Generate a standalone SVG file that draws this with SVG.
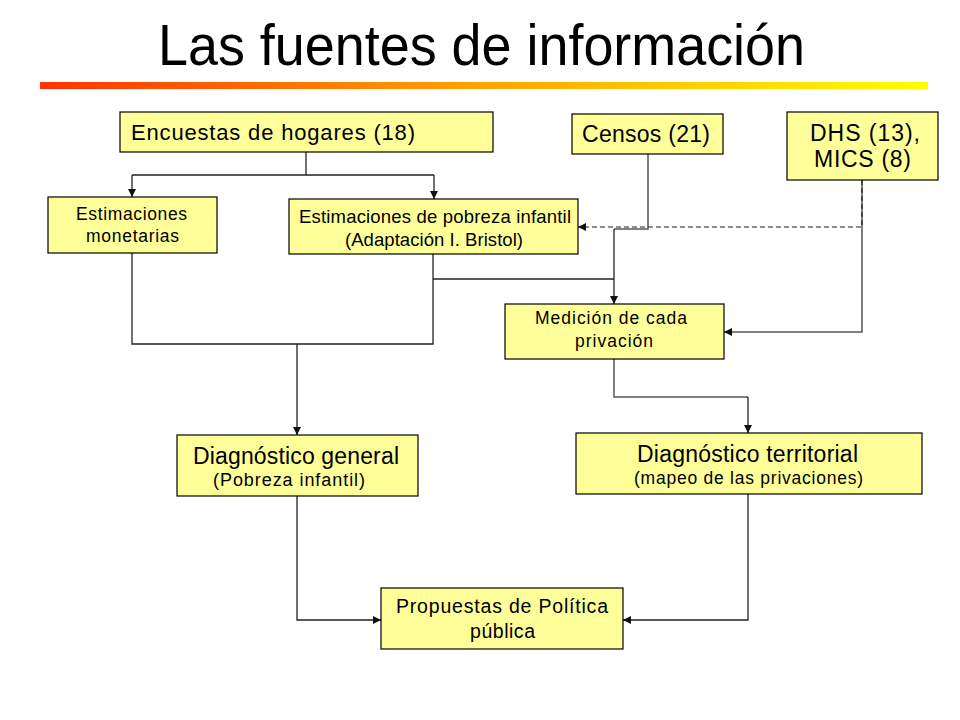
<svg xmlns="http://www.w3.org/2000/svg" width="960" height="720" viewBox="0 0 960 720">
<defs>
<linearGradient id="bar" x1="0" y1="0" x2="1" y2="0">
<stop offset="0" stop-color="#ff3300"/>
<stop offset="0.5" stop-color="#ffa500"/>
<stop offset="1" stop-color="#ffff00"/>
</linearGradient>
<marker id="arr" viewBox="0 0 10 10" refX="10" refY="5" markerWidth="8" markerHeight="8" markerUnits="userSpaceOnUse" orient="auto">
<path d="M0,0 L10,5 L0,10 z" fill="#111"/>
</marker>
</defs>
<style>
.box{fill:#ffff99;stroke:#000;stroke-width:1.2}
.t{font-family:"Liberation Sans",Arial,sans-serif;fill:#000}
.ln{fill:none;stroke:#222;stroke-width:1.3}
.gr{fill:none;stroke:#555;stroke-width:1.5}
.dash{fill:none;stroke:#222;stroke-width:1.2;stroke-dasharray:5 3}
</style>
<rect width="960" height="720" fill="#fff"/>
<text x="158" y="65" class="t" font-size="57" textLength="647" lengthAdjust="spacingAndGlyphs">Las fuentes de información</text>
<rect x="40" y="82" width="888" height="7" fill="url(#bar)"/>

<g id="connectors">
<path class="ln" d="M306,152 V175 M132,175 H434"/>
<path class="ln" d="M132,175 V197" marker-end="url(#arr)"/>
<path class="ln" d="M434,175 V199" marker-end="url(#arr)"/>
<path class="ln" d="M132,253 V344 H433 V254"/>
<path class="ln" d="M297,344 V435" marker-end="url(#arr)"/>
<path class="ln" d="M433,279 H614"/>
<path class="gr" d="M648,154 V229 H614"/>
<path class="ln" d="M614,229 V304" marker-end="url(#arr)"/>
<path class="gr" d="M862,180 V332 H724" marker-end="url(#arr)"/>
<path class="dash" d="M862,180 V227 H578" marker-end="url(#arr)"/>
<path class="gr" d="M614,359 V397 H748"/>
<path class="ln" d="M748,397 V433" marker-end="url(#arr)"/>
<path class="ln" d="M297,496 V620 H381" marker-end="url(#arr)"/>
<path class="ln" d="M748,494 V620 H623" marker-end="url(#arr)"/>
</g>

<g id="encuestas">
<rect class="box" x="120" y="112" width="373" height="40"/>
<text class="t" x="131" y="140" font-size="22" textLength="284" lengthAdjust="spacing">Encuestas de hogares (18)</text>
</g>
<g id="censos">
<rect class="box" x="572" y="114" width="151" height="40"/>
<text class="t" x="582" y="142" font-size="23" textLength="128" lengthAdjust="spacing">Censos (21)</text>
</g>
<g id="dhs">
<rect class="box" x="787" y="112" width="151" height="68"/>
<text class="t" x="810" y="141" font-size="23" textLength="110" lengthAdjust="spacing">DHS (13),</text>
<text class="t" x="814" y="167" font-size="23" textLength="97" lengthAdjust="spacing">MICS (8)</text>
</g>
<g id="monetarias">
<rect class="box" x="48" y="197" width="169" height="56"/>
<text class="t" x="76" y="220" font-size="17.5" textLength="111" lengthAdjust="spacing">Estimaciones</text>
<text class="t" x="86" y="242" font-size="17.5" textLength="93" lengthAdjust="spacing">monetarias</text>
</g>
<g id="pobreza">
<rect class="box" x="289" y="199" width="289" height="55"/>
<text class="t" x="299" y="223" font-size="18.5" textLength="272" lengthAdjust="spacing">Estimaciones de pobreza infantil</text>
<text class="t" x="345" y="246" font-size="18.5" textLength="178" lengthAdjust="spacing">(Adaptación I. Bristol)</text>
</g>
<g id="medicion">
<rect class="box" x="505" y="304" width="219" height="55"/>
<text class="t" x="535" y="324" font-size="17.5" textLength="152" lengthAdjust="spacing">Medición de cada</text>
<text class="t" x="575" y="347" font-size="17.5" textLength="78" lengthAdjust="spacing">privación</text>
</g>
<g id="diag-general">
<rect class="box" x="177" y="435" width="241" height="61"/>
<text class="t" x="193" y="464" font-size="23" textLength="206" lengthAdjust="spacing">Diagnóstico general</text>
<text class="t" x="213" y="486" font-size="18" textLength="152" lengthAdjust="spacing">(Pobreza infantil)</text>
</g>
<g id="diag-territorial">
<rect class="box" x="576" y="433" width="346" height="61"/>
<text class="t" x="637" y="462" font-size="23" textLength="221" lengthAdjust="spacing">Diagnóstico territorial</text>
<text class="t" x="634" y="484" font-size="17.5" textLength="229" lengthAdjust="spacing">(mapeo de las privaciones)</text>
</g>
<g id="propuestas">
<rect class="box" x="381" y="588" width="242" height="61"/>
<text class="t" x="396" y="613" font-size="19.5" textLength="212" lengthAdjust="spacing">Propuestas de Política</text>
<text class="t" x="470" y="638" font-size="19.5" textLength="65" lengthAdjust="spacing">pública</text>
</g>
</svg>
